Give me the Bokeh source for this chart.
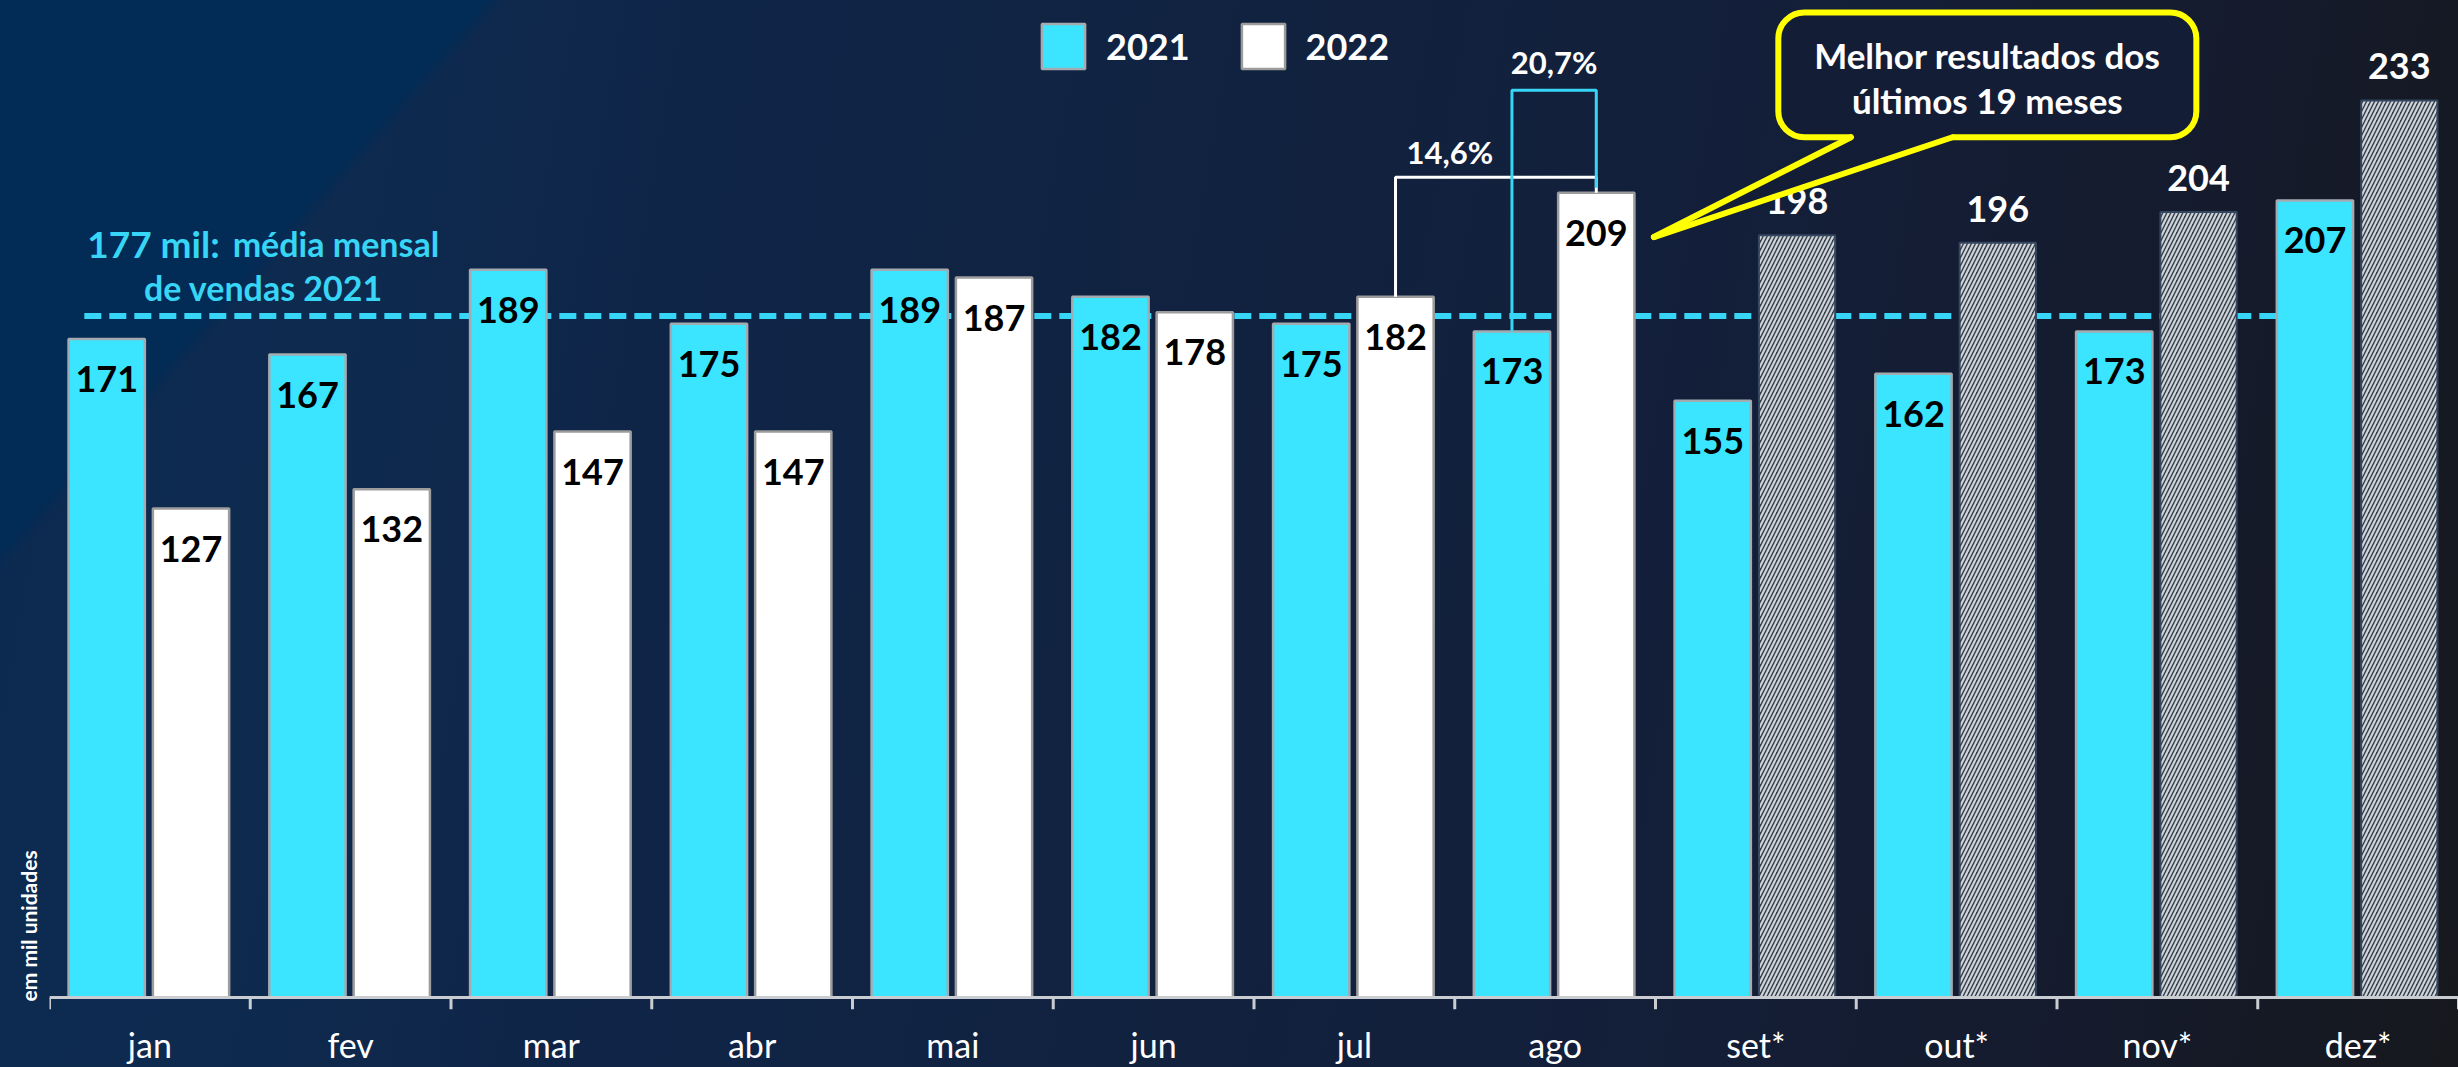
from bokeh.plotting import figure
from bokeh.models import ColumnDataSource, FactorRange, Range1d, Legend, LegendItem, Title
from bokeh.transform import dodge
from bokeh.core.properties import value
from bokeh.embed import file_html
from bokeh.resources import INLINE

# ---------------- data ----------------
months = ["jan", "fev", "mar", "abr", "mai", "jun", "jul", "ago", "set*", "out*", "nov*", "dez*"]
sales_2021 = [171, 167, 189, 175, 189, 182, 175, 173, 155, 162, 173, 207]
months_2022 = ["jan", "fev", "mar", "abr", "mai", "jun", "jul", "ago"]
sales_2022 = [127, 132, 147, 147, 187, 178, 182, 209]
months_2022_proj = ["set*", "out*", "nov*", "dez*"]
sales_2022_proj = [198, 196, 204, 233]
avg_2021 = 177
series_names = ["2021", "2022"]
growth_labels = ["14,6%", "20,7%"]
callout_lines = ["Melhor resultados dos", "últimos 19 meses"]
avg_text = ["mil:", "média mensal", "de vendas 2021"]
y_title = "em mil unidades"

# ---------------- layout / style ----------------
W, H = 2458, 1067
LEFT_B, BOTTOM_B = 49, 56
PX_UNIT = 3.858                      # screen px per thousand units
Y_MIN = -12 / PX_UNIT                # room for the category ticks under the baseline
Y_MAX = Y_MIN + (H - BOTTOM_B) / PX_UNIT
OFF21, OFF22, BAR_W = -0.215, 0.205, 0.38
CYAN, CYAN_TXT, YELLOW = "#3be4ff", "#38d6f6", "#ffff00"
BOX_FILL = "#141d36"
FONT = value("Lato")


def X(px):   # reference px -> synthetic category coordinate
    return (px - 49) / 201.7


def Y(py):   # reference px -> data value
    return (999 - py) / PX_UNIT


p = figure(x_range=FactorRange(factors=months), y_range=Range1d(Y_MIN, Y_MAX),
           width=W, height=H, output_backend="svg", toolbar_location=None,
           y_axis_location=None, min_border_left=LEFT_B, min_border_right=0,
           min_border_top=0, min_border_bottom=BOTTOM_B,
           background_fill_alpha=0, border_fill_alpha=0, outline_line_color=None)
p.xgrid.grid_line_color = None
p.ygrid.grid_line_color = None

# average dashed line (behind bars)
p.segment(x0=[X(84)], y0=[avg_2021], x1=[11.1], y1=[avg_2021],
          line_color=CYAN_TXT, line_width=6, line_dash="17 8")

src21 = ColumnDataSource(dict(month=months, sales=sales_2021,
                              lbl=[str(v) for v in sales_2021]))
src22 = ColumnDataSource(dict(month=months_2022, sales=sales_2022,
                              lbl=[str(v) for v in sales_2022]))
srcpr = ColumnDataSource(dict(month=months_2022_proj, sales=sales_2022_proj,
                              lbl=[str(v) for v in sales_2022_proj]))

x21 = dodge("month", OFF21, range=p.x_range)
x22 = dodge("month", OFF22, range=p.x_range)

r21 = p.vbar(x=x21, top="sales", width=BAR_W, source=src21,
             fill_color=CYAN, line_color="#a3abb1", line_width=2.5)
r22 = p.vbar(x=x22, top="sales", width=BAR_W, source=src22,
             fill_color="#ffffff", line_color="#9c9c9c", line_width=2.5)
p.vbar(x=x22, top="sales", width=BAR_W, source=srcpr,
       fill_color="#343e4b", hatch_pattern="/", hatch_color="#cfd4d9",
       hatch_scale=8, hatch_weight=2.2, line_color="#34465f", line_width=2)

lbl_kw = dict(text="lbl", text_font=FONT, text_font_style="bold",
              text_font_size="36px", text_align="center", text_baseline="middle")
p.text(x=x21, y="sales", source=src21, text_color="#000000", y_offset=40, **lbl_kw)
p.text(x=x22, y="sales", source=src22, text_color="#000000", y_offset=40, **lbl_kw)
p.text(x=x22, y="sales", source=srcpr, text_color="#ffffff", y_offset=-34, **lbl_kw)

# baseline and category-boundary ticks
n = len(months)
p.segment(x0=[0], y0=[0], x1=[n], y1=[0], line_color="#c9cdd1", line_width=3)
edges = list(range(n + 1))
p.segment(x0=edges, y0=[0] * len(edges), x1=edges, y1=[Y_MIN] * len(edges),
          line_color="#c9cdd1", line_width=3)

# growth brackets
i_jul, i_ago = months.index("jul") + 0.5, months.index("ago") + 0.5
v_jul22, v_ago22, v_ago21 = sales_2022[6], sales_2022[7], sales_2021[7]
p.line(x=[i_jul + OFF22, i_jul + OFF22, i_ago + OFF22, i_ago + OFF22],
       y=[v_jul22, Y(177), Y(177), v_ago22], line_color="#ffffff", line_width=3)
p.line(x=[i_ago + OFF21, i_ago + OFF21, i_ago + OFF22, i_ago + OFF22],
       y=[v_ago21, Y(90), Y(90), v_ago22 + 1.3], line_color=CYAN_TXT, line_width=3)
p.text(x=[i_jul + OFF22 + 0.27, i_ago + (OFF21 + OFF22) / 2], y=[Y(152), Y(62)],
       text=growth_labels, text_color="#ffffff", text_font=FONT, text_font_style="bold",
       text_font_size="31px", text_align="center", text_baseline="middle")

# average label
p.text(x=[X(220)], y=[Y(243)], text=[f"{avg_2021} " + avg_text[0]], text_color=CYAN_TXT,
       text_font=FONT, text_font_style="bold", text_font_size="37px",
       text_align="right", text_baseline="alphabetic")
p.text(x=[X(233)], y=[Y(243)], text=[avg_text[1]], text_color=CYAN_TXT,
       text_font=FONT, text_font_style="bold", text_font_size="34px",
       text_align="left", text_baseline="alphabetic")
p.text(x=[X(264)], y=[Y(288)], text=[avg_text[2]], text_color=CYAN_TXT,
       text_font=FONT, text_font_style="bold", text_font_size="34px",
       text_align="center", text_baseline="alphabetic")

# callout
bx_l, bx_r, bx_t, bx_b = X(1786), X(2206), Y(12), Y(137)
t1, t2, tip_x, tip_y = X(1859), X(1961), X(1661), Y(237)
p.quad(left=[bx_l], right=[bx_r], top=[bx_t], bottom=[bx_b], fill_color=BOX_FILL,
       line_color=YELLOW, line_width=6, border_radius=26)
p.patch(x=[t1 + 0.01, t1, tip_x, t2, t2 - 0.01], y=[bx_b + 2, bx_b, tip_y, bx_b, bx_b + 2],
        fill_color=BOX_FILL, line_color=None)
p.multi_line(xs=[[t1, tip_x], [t2, tip_x]], ys=[[bx_b, tip_y], [bx_b, tip_y]],
             line_color=YELLOW, line_width=6, line_cap="round")
p.text(x=[(bx_l + bx_r) / 2] * 2, y=[Y(55), Y(100)], text=callout_lines,
       text_color="#ffffff", text_font=FONT, text_font_style="bold",
       text_font_size="35px", text_align="center", text_baseline="middle")

# y title (bottom-aligned, vertical, in the left border)
p.add_layout(Title(text=y_title, align="left", offset=8, standoff=18,
                   text_color="#ffffff", text_font="Lato", text_font_style="bold",
                   text_font_size="21px"), "left")

# legend
legend = Legend(items=[LegendItem(label=series_names[0], renderers=[r21]),
                       LegendItem(label=series_names[1], renderers=[r22])],
                location=(987, (H - BOTTOM_B) - 76), orientation="horizontal",
                glyph_width=54, glyph_height=56, label_standoff=16, spacing=46,
                padding=0, margin=0, background_fill_alpha=0, border_line_color=None,
                label_text_color="#ffffff", label_text_font="Lato",
                label_text_font_style="bold", label_text_font_size="36px")
p.add_layout(legend)

# x axis
ax = p.xaxis[0]
ax.axis_line_color = None
ax.major_tick_line_color = None
ax.minor_tick_line_color = None
ax.major_tick_in = 0
ax.major_tick_out = 0
ax.major_label_standoff = 14
ax.major_label_text_color = "#ffffff"
ax.major_label_text_font = "Lato"
ax.major_label_text_font_size = "34px"

TEMPLATE = """{% block postamble %}<style>
html { background-color: #0f2548;
  background-image: linear-gradient(131.4deg, #022b55 0%, #022b55 14.3%, rgba(2,43,85,0) 14.9%),
    linear-gradient(100deg, #0c2a51 0%, #0e2a4f 15%, #0f2548 27%, #11223f 50%, #131f3a 66%, #151b2d 85%, #16181d 100%);
  background-attachment: fixed; }
body { background: transparent; }
</style>{% endblock %}"""

open("out.html", "w").write(file_html(p, INLINE, template=TEMPLATE))
